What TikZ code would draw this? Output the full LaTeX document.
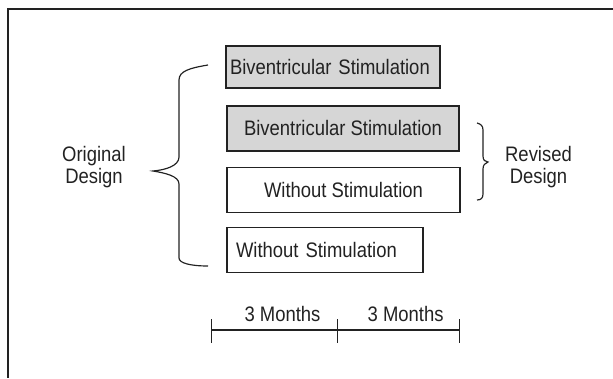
\documentclass[tikz,border=0pt]{standalone}
\usepackage{fontspec}
\setmainfont{Liberation Sans}[FakeStretch=0.88]
\definecolor{boxgray}{RGB}{214,214,214}
\definecolor{inkgray}{RGB}{34,34,34}
\tikzset{
  armbox/.style={draw=inkgray, line width=1.1pt, inner ysep=0pt, text=inkgray},
  armshaded/.style={armbox, fill=boxgray},
  bracket/.style={draw=inkgray, line width=1pt},
  sidelabel/.style={align=center, text=inkgray}
}
\begin{document}
\begin{tikzpicture}[font=\fontsize{17.9}{18.5}\selectfont]
\useasboundingbox (0,0) rectangle (18.39,-11.34);
\draw[inkgray, line width=1.3pt] (18.39,-.27) -- (.24,-.27) -- (.24,-11.34);
% study arms
\node[armshaded, minimum height=1.26cm, inner xsep=.12cm, text width=6.18cm, align=left] (bivA) at (9.99,-2.01) {Biventricular Stimulation};
\node[armshaded, minimum width=6.96cm, minimum height=1.35cm] (bivB) at (10.29,-3.855) {Biventricular Stimulation};
\node[armbox, minimum width=6.99cm, minimum height=1.34cm] (noneB) at (10.305,-5.70) {Without Stimulation};
\node[armbox, minimum height=1.35cm, inner xsep=.27cm, text width=5.34cm, align=left] (noneA) at (9.75,-7.5) {Without Stimulation};
% braces
\draw[bracket] (6.24,-1.95) .. controls (5.70,-2.04) and (5.37,-2.13) .. (5.37,-2.40) -- (5.37,-4.71)
  .. controls (5.37,-4.98) and (4.95,-5.10) .. (4.59,-5.13)
  .. controls (4.95,-5.19) and (5.37,-5.28) .. (5.37,-5.52) -- (5.37,-7.74)
  .. controls (5.37,-7.89) and (5.70,-7.98) .. (6.24,-7.98);
\draw[bracket] (14.31,-3.69) .. controls (14.43,-3.72) and (14.49,-3.78) .. (14.49,-3.90) -- (14.49,-4.68)
  .. controls (14.49,-4.80) and (14.55,-4.86) .. (14.64,-4.86)
  .. controls (14.55,-4.89) and (14.49,-4.95) .. (14.49,-5.07) -- (14.49,-5.82)
  .. controls (14.49,-5.94) and (14.43,-6.00) .. (14.31,-6.00);
\node[sidelabel] (orig) at (2.82,-5.01) {Original\\Design};
\node[sidelabel] (rev) at (16.155,-5.01) {Revised\\Design};
% time line
\coordinate (t0) at (6.35,-9.90);
\coordinate (t1) at (10.13,-9.90);
\coordinate (t2) at (13.78,-9.90);
\draw[bracket] (t0) -- (t1) -- (t2);
\foreach \t in {t0,t1,t2}
  \draw[bracket] ([yshift=.33cm]\t) -- ([yshift=-.39cm]\t);
\node[text=inkgray] (monthA) at (8.475,-9.42) {3 Months};
\node[text=inkgray] (monthB) at (12.17,-9.42) {3 Months};
\end{tikzpicture}
\end{document}
